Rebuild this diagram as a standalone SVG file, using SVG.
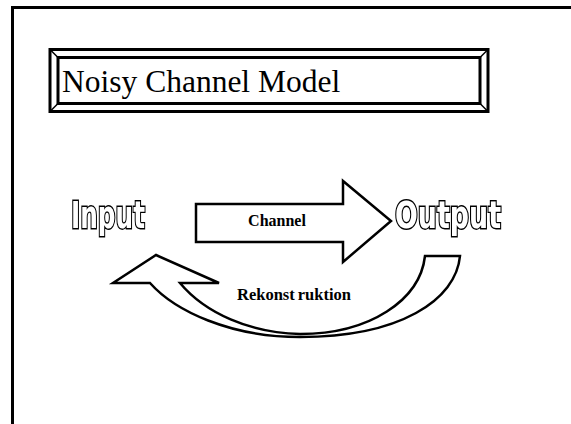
<svg xmlns="http://www.w3.org/2000/svg" width="571" height="424" viewBox="0 0 571 424">
<defs>
<filter id="gray" x="-5%" y="-10%" width="110%" height="120%"><feOffset dx="0" dy="0"/></filter>
</defs>
<style>
.ln{fill:none;stroke:#000;stroke-width:3}
.sh{fill:#fff;stroke:#000;stroke-width:2.5;stroke-linejoin:miter}
.t{font-family:"Liberation Serif",serif;fill:#000}
.b{font-family:"Liberation Serif",serif;font-weight:bold;fill:#000}
.o{font-family:"DejaVu Sans Condensed","DejaVu Sans",sans-serif;font-weight:bold;fill:#fff;stroke:#000;stroke-width:2.8;paint-order:stroke;stroke-linejoin:miter}
</style>
<rect width="571" height="424" fill="#fff"/>
<path class="ln" d="M12.5,424 V7.5 H571"/>
<g id="title">
<rect class="ln" x="50" y="49.5" width="438" height="62"/>
<rect class="ln" x="58" y="57.5" width="422" height="46"/>
<path fill="none" stroke="#000" stroke-width="1.5" d="M50,49.5 L58,57.5 M488,49.5 L480,57.5 M50,111.5 L58,103.5 M488,111.5 L480,103.5"/>
<text class="t" x="62" y="91.5" font-size="31.5">Noisy Channel Model</text>
</g>
<g id="input" filter="url(#gray)">
<text class="o" x="71" y="228" font-size="38" textLength="74" lengthAdjust="spacingAndGlyphs">Input</text>
</g>
<g id="output" filter="url(#gray)">
<text class="o" x="395" y="228" font-size="38" textLength="106" lengthAdjust="spacingAndGlyphs">Output</text>
</g>
<g id="connectors">
<g id="channel">
<path class="sh" d="M196,204 H343 V181 L391,221 L343,262 V242 H196 Z"/>
<text class="b" x="277" y="226" font-size="16" text-anchor="middle">Channel</text>
</g>
<g id="rekonstruktion">
<path class="sh" d="M156,255 L219,283 L180,283 C205,313 250,333 300,334 C370,334 420,300 425,256 L460,256 C456,300 400,337 300,337 C230,337 175,311 150,283 L113,283 Z"/>
<text class="b" x="237" y="300" font-size="16.5">Rekonst<tspan dx="3">ruktion</tspan></text>
</g>
</g>
</svg>
